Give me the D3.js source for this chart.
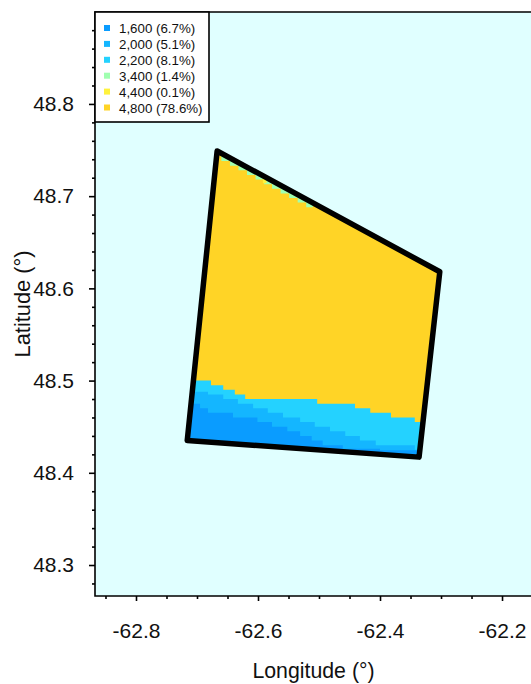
<!DOCTYPE html>
<html>
<head>
  <meta charset="UTF-8">
  <title>Zones</title>
  <style>
    html, body { margin: 0; padding: 0; background: #fff; overflow: hidden; }
    text { font-family: "Liberation Sans", Arial, sans-serif; fill: #111; }
  </style>
</head>
<body>
<svg id="chart" width="531" height="684"></svg>
<script src="https://d3js.org/d3.v7.min.js"></script>
<script>

// Legend
var zoneLabels = ["1,600 (6.7%)", "2,000 (5.1%)", "2,200 (8.1%)", "3,400 (1.4%)", "4,400 (0.1%)", "4,800 (78.6%)"];
var zoneColors = ["#0a9cff", "#14b6ff", "#24d2ff", "#a0ffb0", "#fff23c", "#ffd426"];

// Axis ticks
var lonTicks = [-62.8, -62.6, -62.4, -62.2];
var latTicks = [48.3, 48.4, 48.5, 48.6, 48.7, 48.8];

// Outline of the area [lon, lat]
var outline = [[-62.667, 48.749], [-62.302, 48.618], [-62.336, 48.417], [-62.716, 48.435]];

// Zone limits: [lon where step starts, lat]
var top2200 = [[-62.73, 48.500], [-62.677, 48.495], [-62.657, 48.490], [-62.638, 48.485], [-62.621, 48.480],
  [-62.503, 48.475], [-62.441, 48.470], [-62.416, 48.465], [-62.382, 48.460], [-62.343, 48.455], [-62.30, 48.455]];
var top2000 = [[-62.73, 48.488], [-62.682, 48.485], [-62.657, 48.480], [-62.633, 48.475], [-62.608, 48.470],
  [-62.584, 48.465], [-62.559, 48.460], [-62.531, 48.455], [-62.507, 48.450], [-62.482, 48.445], [-62.457, 48.440],
  [-62.433, 48.435], [-62.407, 48.430], [-62.343, 48.425], [-62.30, 48.425]];
var top1600 = [[-62.73, 48.475], [-62.695, 48.470], [-62.682, 48.465], [-62.641, 48.460], [-62.601, 48.455],
  [-62.577, 48.450], [-62.552, 48.445], [-62.531, 48.440], [-62.512, 48.435], [-62.494, 48.430], [-62.461, 48.426],
  [-62.40, 48.4245], [-62.30, 48.4245]];
// bottom limit of the thin strip under the top edge
var bottom3400 = [[-62.660, 48.738], [-62.646, 48.733], [-62.632, 48.728], [-62.618, 48.723], [-62.604, 48.718],
  [-62.590, 48.713], [-62.577, 48.708], [-62.563, 48.703], [-62.549, 48.698], [-62.535, 48.693], [-62.521, 48.688], [-62.510, 48.688]];
var bottom4400 = [[-62.592, 48.714], [-62.586, 48.714]];

// The svg
var svg = d3.select("#chart");
var margin = { left: 95, right: 531, top: 12, bottom: 596 };

var x = d3.scaleLinear().domain([-62.8672, -62.1525]).range([margin.left, margin.right]);
var y = d3.scaleLinear().domain([48.2664, 48.8997]).range([margin.bottom, margin.top]);

// Plot background
svg.append("rect")
  .attr("x", margin.left)
  .attr("y", margin.top)
  .attr("width", margin.right - margin.left)
  .attr("height", margin.bottom - margin.top)
  .attr("fill", "#e0ffff");

// Axes, major and minor
var xAxis = d3.axisBottom(x).tickValues(lonTicks).tickSize(5).tickFormat(d3.format(".1f"));
var xMinor = d3.axisBottom(x).tickValues(d3.range(-62.85, -62.15, 0.05).filter(function (d) {
  return Math.round(d * 100) % 20 !== 0;
})).tickSize(3).tickFormat("");
var yAxis = d3.axisLeft(y).tickValues(latTicks).tickSize(6).tickFormat(d3.format(".1f"));
var yMinor = d3.axisLeft(y).tickValues(d3.range(48.28, 48.9, 0.02).filter(function (d) {
  return Math.round(d * 100) % 10 !== 0;
})).tickSize(3).tickFormat("");

function styleAxis(g) {
  g.select(".domain").remove();
  g.selectAll("line").attr("stroke", "#000").attr("stroke-width", 1.6);
  g.selectAll("text").attr("font-size", 21).attr("fill", "#111");
}

var gx = svg.append("g").attr("transform", "translate(0," + margin.bottom + ")");
gx.call(xAxis).call(styleAxis);
gx.selectAll("text").attr("y", 27);
gx.selectAll("text").text(function (d) { return d3.format(".1f")(d).replace("\u2212", "-"); });
svg.append("g").attr("transform", "translate(0," + margin.bottom + ")").call(xMinor).call(styleAxis);

var gy = svg.append("g").attr("transform", "translate(" + margin.left + ",0)");
gy.call(yAxis).call(styleAxis);
gy.selectAll("text").attr("x", -21);
svg.append("g").attr("transform", "translate(" + margin.left + ",0)").call(yMinor).call(styleAxis);

// Clip to the outline
var outlinePath = d3.line().x(function (d) { return x(d[0]); }).y(function (d) { return y(d[1]); }).curve(d3.curveLinearClosed);

svg.append("clipPath").attr("id", "outline-clip")
  .append("path").attr("d", outlinePath(outline));

var zones = svg.append("g").attr("clip-path", "url(#outline-clip)");

// Biggest zone fills the whole outline, the others go on top
zones.append("path").attr("d", outlinePath(outline)).attr("fill", zoneColors[5]);

function below(color, steps) {
  var area = d3.area().curve(d3.curveStepAfter)
    .x(function (d) { return x(d[0]); })
    .y0(margin.bottom)
    .y1(function (d) { return y(d[1]); });
  zones.append("path").attr("d", area(steps)).attr("fill", color);
}
function above(color, steps) {
  var area = d3.area().curve(d3.curveStepAfter)
    .x(function (d) { return x(d[0]); })
    .y0(margin.top)
    .y1(function (d) { return y(d[1]); });
  zones.append("path").attr("d", area(steps)).attr("fill", color);
}

below(zoneColors[2], top2200);
below(zoneColors[1], top2000);
below(zoneColors[0], top1600);
above(zoneColors[3], bottom3400);
above(zoneColors[4], bottom4400);

// Outline on top
svg.append("path")
  .attr("d", outlinePath(outline))
  .attr("fill", "none")
  .attr("stroke", "#000")
  .attr("stroke-width", 5.5)
  .attr("stroke-linejoin", "round");

// Plot frame (right side runs off the page)
svg.append("path")
  .attr("d", "M" + margin.right + "," + margin.top + "H" + margin.left + "V" + margin.bottom + "H" + margin.right)
  .attr("fill", "none")
  .attr("stroke", "#000")
  .attr("stroke-width", 1.6);

// Legend box
var legend = svg.append("g");
legend.append("rect")
  .attr("x", 95)
  .attr("y", 12)
  .attr("width", 114)
  .attr("height", 110)
  .attr("fill", "#fff")
  .attr("stroke", "#000")
  .attr("stroke-width", 1.6);

var entry = legend.selectAll("g.entry")
  .data(zoneLabels)
  .enter().append("g")
  .attr("class", "entry")
  .attr("transform", function (d, i) { return "translate(0," + (28 + i * 15.9) + ")"; });

entry.append("rect")
  .attr("x", 104)
  .attr("y", -3)
  .attr("width", 6)
  .attr("height", 6)
  .attr("fill", function (d, i) { return zoneColors[i]; });

entry.append("text")
  .attr("x", 119)
  .attr("y", 5)
  .attr("font-size", 13.3)
  .text(function (d) { return d; });

// Axis titles
svg.append("text")
  .attr("x", 313.5)
  .attr("y", 678)
  .attr("text-anchor", "middle")
  .attr("font-size", 21.3)
  .text("Longitude (\u00b0)");

svg.append("text")
  .attr("transform", "translate(30,304) rotate(-90)")
  .attr("text-anchor", "middle")
  .attr("font-size", 21.8)
  .text("Latitude (\u00b0)");

</script>
</body>
</html>
